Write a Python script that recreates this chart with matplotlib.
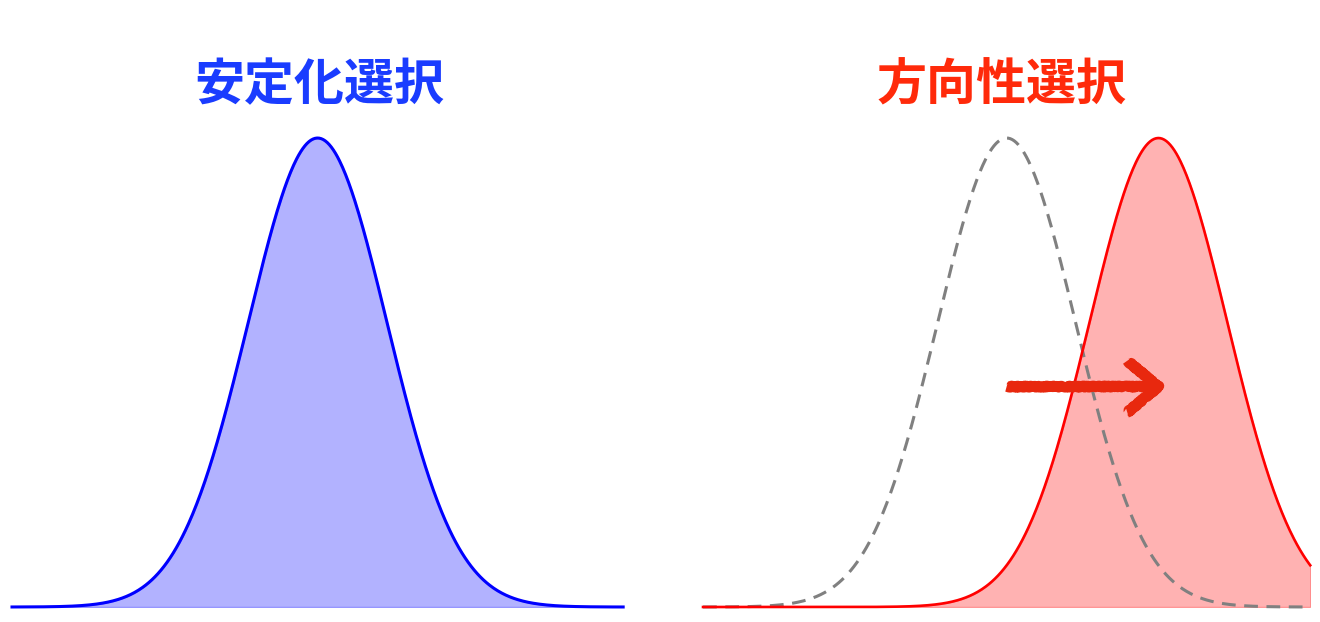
import numpy as np
import matplotlib.pyplot as plt

plt.rcParams['font.family'] = ['Noto Sans CJK JP', 'DejaVu Sans']

# titles
title_left = "安定化選択"
title_right = "方向性選択"

# shape of the trait distributions (in units of sigma)
x_range = (-4.4, 4.4)
sigma = 1.0
mean_stable = 0.0
mean_before = 0.0
mean_after = 2.2

# selection arrow
shift_start = 0.0
shift_end = 2.32
arrow_y = 0.47


def bell(x, mu, s):
    return np.exp(-0.5 * ((x - mu) / s) ** 2)


x = np.linspace(x_range[0], x_range[1], 600)

fig = plt.figure(figsize=(13.2, 6.22), dpi=100)
ax1 = fig.add_axes([0.0091, 0.0241, 0.463, 0.754])
ax2 = fig.add_axes([0.5326, 0.0241, 0.460, 0.754])

# stabilizing selection
y1 = bell(x, mean_stable, sigma)
ax1.fill_between(x, 0, y1, color='blue', alpha=0.3, linewidth=1)
ax1.plot(x, y1, color='blue', lw=2.2, clip_on=False)

# directional selection
y_before = bell(x, mean_before, sigma)
y_after = bell(x, mean_after, sigma)
ax2.plot(x, y_before, color='gray', lw=2.2, ls=(0, (4.5, 2.8)), clip_on=False)
ax2.fill_between(x, 0, y_after, color='red', alpha=0.3, linewidth=1)
ax2.plot(x, y_after, color='red', lw=1.9, clip_on=False)

arr = ax2.annotate("", xy=(shift_end, arrow_y), xytext=(shift_start, arrow_y),
                   arrowprops=dict(arrowstyle="->,head_length=0.75,head_width=0.62",
                                   color='#e8280e', lw=7.5, mutation_scale=30,
                                   shrinkA=0, shrinkB=0, capstyle='butt'))
arr.arrow_patch.set_sketch_params(scale=0.8, length=3, randomness=6)

for ax in (ax1, ax2):
    ax.set_xlim(*x_range)
    ax.set_ylim(0, 1)
    ax.axis('off')

fig.text(0.2417, 0.862, title_left, color='#1a3cff', fontsize=36,
         fontweight='bold', ha='center', va='center')
fig.text(0.759, 0.862, title_right, color='#ff2a0a', fontsize=36,
         fontweight='bold', ha='center', va='center')

fig.savefig("out.png", dpi=100, facecolor='white')
